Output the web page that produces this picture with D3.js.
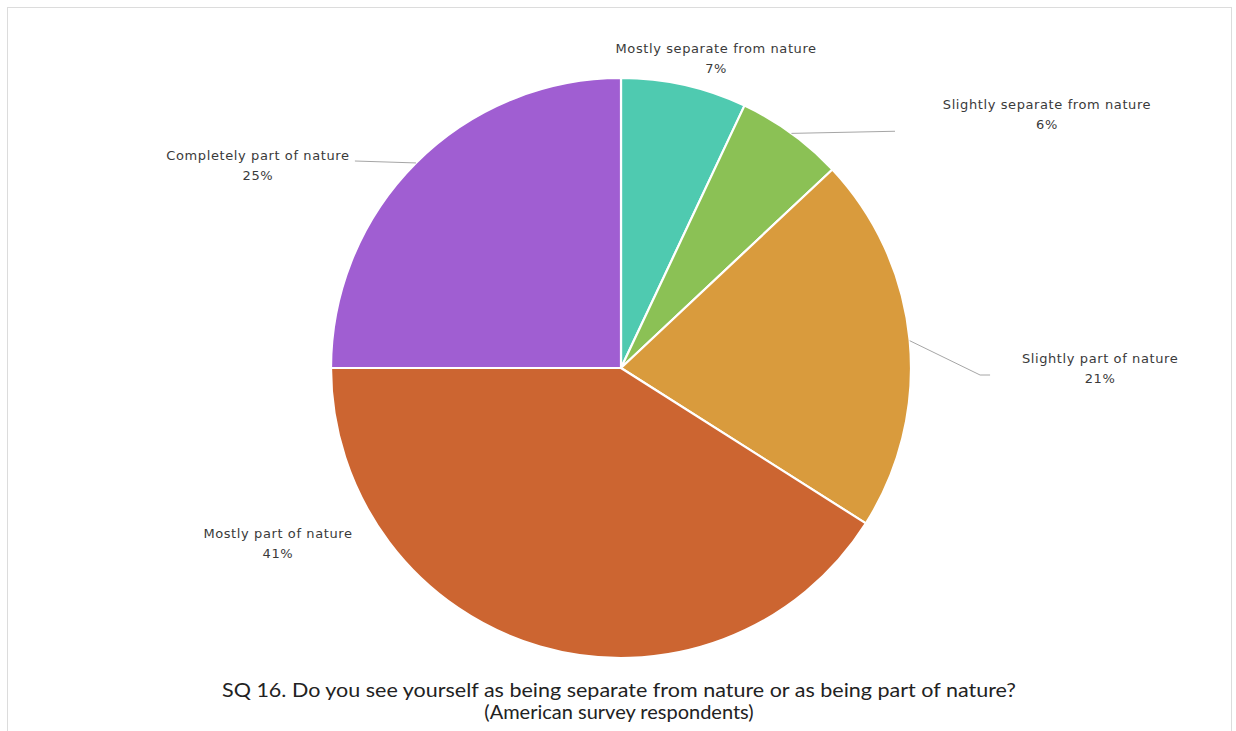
<!DOCTYPE html>
<html>
<head>
<meta charset="utf-8">
<script src="https://cdn.jsdelivr.net/npm/d3@7"></script>
<style>
  html, body { margin: 0; padding: 0; background: #fff; }
  svg { display: block; }
</style>
</head>
<body>
<svg id="chart" width="1236" height="731"></svg>
<script>
// Survey answers, clockwise from 12 o'clock
const categories = [
  "Mostly separate from nature",
  "Slightly separate from nature",
  "Slightly part of nature",
  "Mostly part of nature",
  "Completely part of nature"
];
const shares = [7, 6, 21, 41, 25];
const sliceColors = ["#4fcab0", "#8bc155", "#d99b3d", "#cc6531", "#a05ed2"];
const titleLines = [
  "SQ 16. Do you see yourself as being separate from nature or as being part of nature?",
  "(American survey respondents)"
];

const W = 1236, H = 731;
const cx = 621, cy = 368, R = 290;

// Label block centres, expressed as offsets from the pie centre in radius units;
// leader ends are pixel offsets from the label centre
const labelLayout = [
  { dx: 0.328,  dy: -1.07,  leader: null },
  { dx: 1.469,  dy: -0.875, leader: [[-152, 17]] },
  { dx: 1.652,  dy: 0.0,    leader: [[-120, 7], [-110, 7]] },
  { dx: -1.183, dy: 0.605,  leader: null },
  { dx: -1.252, dy: -0.70,  leader: [[97, -4]] }
];

const svg = d3.select("#chart");

// Outer frame
svg.append("rect")
  .attr("x", 7.5).attr("y", 7.5)
  .attr("width", 1224).attr("height", 740)
  .attr("fill", "none")
  .attr("stroke", "#dcdcdc")
  .attr("stroke-width", 1);

const data = categories.map((c, i) => ({ name: c, value: shares[i], color: sliceColors[i] }));

const pie = d3.pie().sort(null).value(d => d.value);
const arcs = pie(data);
const arc = d3.arc().innerRadius(0).outerRadius(R);

const g = svg.append("g").attr("transform", `translate(${cx},${cy})`);

g.selectAll("path.slice")
  .data(arcs)
  .join("path")
  .attr("class", "slice")
  .attr("d", arc)
  .attr("fill", d => d.data.color)
  .attr("stroke", "#ffffff")
  .attr("stroke-width", 2.2)
  .attr("stroke-linejoin", "round");

// Data labels with leader lines running to the middle of each slice's rim
const fontLabel = "'Century Gothic', 'DejaVu Sans', sans-serif";
arcs.forEach((a, i) => {
  const L = labelLayout[i];
  const lx = L.dx * R, ly = L.dy * R;
  const mid = (a.startAngle + a.endAngle) / 2;
  const ex = Math.sin(mid) * R, ey = -Math.cos(mid) * R;

  if (L.leader) {
    const pts = [[ex, ey]].concat(L.leader.map(p => [lx + p[0], ly + p[1]]));
    g.append("path")
      .attr("d", d3.line()(pts))
      .attr("fill", "none")
      .attr("stroke", "#a6a6a6")
      .attr("stroke-width", 1);
  }

  const t = g.append("text")
    .attr("text-anchor", "middle")
    .attr("font-family", fontLabel)
    .attr("font-size", 13)
    .attr("letter-spacing", 0.6)
    .attr("fill", "#3a3a3a");
  t.append("tspan").attr("x", lx).attr("y", ly - 5).text(a.data.name);
  t.append("tspan").attr("x", lx).attr("y", ly + 15).text(a.data.value + "%");
});

// Title
const title = svg.append("text")
  .attr("text-anchor", "middle")
  .attr("font-family", "Lato, 'Open Sans', sans-serif")
  .attr("font-size", 20)
  .attr("fill", "#222222");
title.append("tspan").attr("x", 619).attr("y", 697)
  .attr("textLength", 794).attr("lengthAdjust", "spacingAndGlyphs")
  .text(titleLines[0]);
title.append("tspan").attr("x", 619).attr("y", 719).text(titleLines[1]);
</script>
</body>
</html>
